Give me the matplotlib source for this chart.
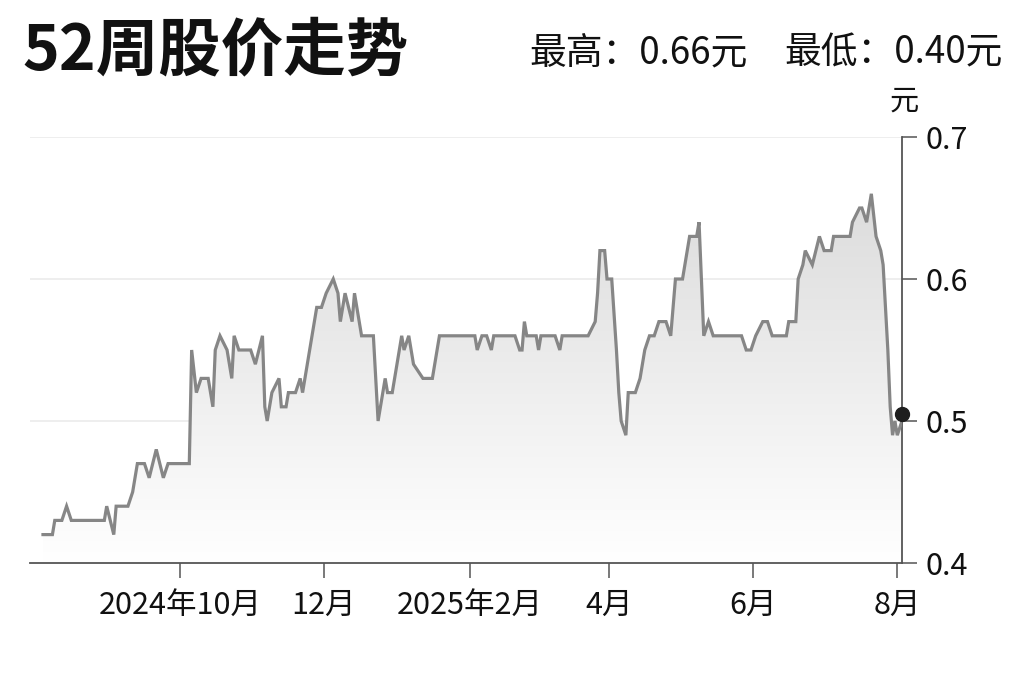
import numpy as np
import pandas as pd
import matplotlib
matplotlib.use("Agg")
import matplotlib.pyplot as plt
import matplotlib.dates as mdates
from matplotlib.colors import LinearSegmentedColormap

plt.rcParams['font.family'] = ['Noto Sans CJK SC', 'DejaVu Sans']

# 52-week closing prices
dates = [
    "2024-08-04", "2024-08-08", "2024-08-09", "2024-08-12", "2024-08-14", "2024-08-16",
    "2024-08-30", "2024-08-31", "2024-09-03", "2024-09-04", "2024-09-09", "2024-09-11",
    "2024-09-13", "2024-09-16", "2024-09-18", "2024-09-21", "2024-09-24", "2024-09-26",
    "2024-10-05", "2024-10-06", "2024-10-08", "2024-10-10", "2024-10-13", "2024-10-15",
    "2024-10-16", "2024-10-18", "2024-10-21", "2024-10-23", "2024-10-24", "2024-10-26",
    "2024-10-31", "2024-11-02", "2024-11-05", "2024-11-06", "2024-11-07", "2024-11-09",
    "2024-11-12", "2024-11-13", "2024-11-15", "2024-11-16", "2024-11-19", "2024-11-21",
    "2024-11-22", "2024-11-25", "2024-11-28", "2024-11-30", "2024-12-02", "2024-12-05",
    "2024-12-07", "2024-12-08", "2024-12-10", "2024-12-13", "2024-12-14", "2024-12-17",
    "2024-12-22", "2024-12-24", "2024-12-27", "2024-12-28", "2024-12-30", "2025-01-01",
    "2025-01-03", "2025-01-04", "2025-01-06", "2025-01-08", "2025-01-12", "2025-01-16",
    "2025-01-19", "2025-02-03", "2025-02-04", "2025-02-06", "2025-02-08", "2025-02-10",
    "2025-02-11", "2025-02-20", "2025-02-22", "2025-02-23", "2025-02-24", "2025-02-25",
    "2025-03-01", "2025-03-02", "2025-03-03", "2025-03-09", "2025-03-11", "2025-03-12",
    "2025-03-23", "2025-03-26", "2025-03-27", "2025-03-28", "2025-03-30", "2025-03-31",
    "2025-04-02", "2025-04-04", "2025-04-05", "2025-04-06", "2025-04-08", "2025-04-09",
    "2025-04-12", "2025-04-14", "2025-04-16", "2025-04-18", "2025-04-20", "2025-04-22",
    "2025-04-25", "2025-04-27", "2025-04-29", "2025-05-02", "2025-05-04", "2025-05-05",
    "2025-05-08", "2025-05-09", "2025-05-11", "2025-05-13", "2025-05-15", "2025-05-27",
    "2025-05-29", "2025-05-31", "2025-06-02", "2025-06-05", "2025-06-07", "2025-06-09",
    "2025-06-15", "2025-06-16", "2025-06-19", "2025-06-20", "2025-06-22", "2025-06-23",
    "2025-06-26", "2025-06-29", "2025-07-01", "2025-07-04", "2025-07-05", "2025-07-12",
    "2025-07-13", "2025-07-16", "2025-07-17", "2025-07-19", "2025-07-21", "2025-07-23",
    "2025-07-25", "2025-07-26", "2025-07-28", "2025-07-29", "2025-07-30", "2025-07-31",
    "2025-08-01", "2025-08-03",
]
prices = [
    0.42, 0.42, 0.43, 0.43, 0.44, 0.43,
    0.43, 0.44, 0.42, 0.44, 0.44, 0.45,
    0.47, 0.47, 0.46, 0.48, 0.46, 0.47,
    0.47, 0.55, 0.52, 0.53, 0.53, 0.51,
    0.55, 0.56, 0.55, 0.53, 0.56, 0.55,
    0.55, 0.54, 0.56, 0.51, 0.50, 0.52,
    0.53, 0.51, 0.51, 0.52, 0.52, 0.53,
    0.52, 0.55, 0.58, 0.58, 0.59, 0.60,
    0.59, 0.57, 0.59, 0.57, 0.59, 0.56,
    0.56, 0.50, 0.53, 0.52, 0.52, 0.54,
    0.56, 0.55, 0.56, 0.54, 0.53, 0.53,
    0.56, 0.56, 0.55, 0.56, 0.56, 0.55,
    0.56, 0.56, 0.55, 0.55, 0.57, 0.56,
    0.56, 0.55, 0.56, 0.56, 0.55, 0.56,
    0.56, 0.57, 0.59, 0.62, 0.62, 0.60,
    0.60, 0.55, 0.52, 0.50, 0.49, 0.52,
    0.52, 0.53, 0.55, 0.56, 0.56, 0.57,
    0.57, 0.56, 0.60, 0.60, 0.62, 0.63,
    0.63, 0.64, 0.56, 0.57, 0.56, 0.56,
    0.55, 0.55, 0.56, 0.57, 0.57, 0.56,
    0.56, 0.57, 0.57, 0.60, 0.61, 0.62,
    0.61, 0.63, 0.62, 0.62, 0.63, 0.63,
    0.64, 0.65, 0.65, 0.64, 0.66, 0.63,
    0.62, 0.61, 0.55, 0.51, 0.49, 0.50,
    0.49, 0.50,
]

tick_dates = ["2024-10-01", "2024-12-01", "2025-02-01", "2025-04-01", "2025-06-01", "2025-08-01"]
tick_labels = ["2024年10月", "12月", "2025年2月", "4月", "6月", "8月"]
y_ticks = [0.4, 0.5, 0.6, 0.7]
y_tick_labels = ["0.4", "0.5", "0.6", "0.7"]
high_price = 0.66
low_price = 0.40
title = "52周股价走势"
unit = "元"

x = mdates.date2num(pd.to_datetime(dates))
y = np.array(prices)
x_left = mdates.date2num(pd.Timestamp("2024-07-29 12:00"))
y_min, y_max = 0.4, 0.7

fig = plt.figure(figsize=(10.24, 6.82), dpi=100)
ax = fig.add_axes([30 / 1024, 1 - 563 / 682, (902 - 30) / 1024, (563 - 137) / 682])

# grid lines
for v in y_ticks[1:]:
    ax.axhline(v, color="#ebebeb", lw=1.2, zorder=0)

# gradient fill under the line
poly = ax.fill_between(x, y, y_min, color="none", lw=0)
grad = np.linspace(1, 0, 256).reshape(-1, 1)
cmap = LinearSegmentedColormap.from_list("g", ["#ffffff", "#dcdcdc"])
img = ax.imshow(grad, aspect="auto", cmap=cmap, origin="upper",
                extent=[x[0], x[-1], y_min, y.max()], zorder=1)
img.set_clip_path(poly.get_paths()[0], transform=ax.transData)

ax.plot(x, y, color="#868686", lw=2.3, zorder=3, solid_joinstyle="miter")
ax.plot(x[-1], y[-1] + 0.005, "o", color="#1e1e1e", ms=10, zorder=5, clip_on=False)

ax.set_xlim(x_left, x[-1])
ax.set_ylim(y_min, y_max)

ax.set_xticks(mdates.date2num(pd.to_datetime(tick_dates)))
ax.set_xticklabels(tick_labels)
ax.set_yticks(y_ticks)
ax.set_yticklabels(y_tick_labels)
ax.yaxis.tick_right()

for s in ["top", "left"]:
    ax.spines[s].set_visible(False)
for s in ["right", "bottom"]:
    ax.spines[s].set_color("#555555")
    ax.spines[s].set_linewidth(1.3)

ax.tick_params(axis="both", colors="#555555", length=11, width=1.1,
               labelcolor="#111111", labelsize=22, pad=6)
ax.tick_params(axis="x", pad=8)

fig.text(22 / 1024, 1 - 51 / 682, title, fontsize=45, fontweight="black",
         ha="left", va="center", color="#111111")
fig.text(748 / 1024, 1 - 53 / 682, f"最高：{high_price:.2f}元",
         fontsize=26.5, ha="right", va="center", color="#111111")
fig.text(1003 / 1024, 1 - 53 / 682, f"最低：{low_price:.2f}元",
         fontsize=26.5, ha="right", va="center", color="#111111")
fig.text(904 / 1024, 1 - 102 / 682, unit, fontsize=21, ha="center", va="center",
         color="#111111")

fig.savefig("out.png", dpi=100, facecolor="white")
